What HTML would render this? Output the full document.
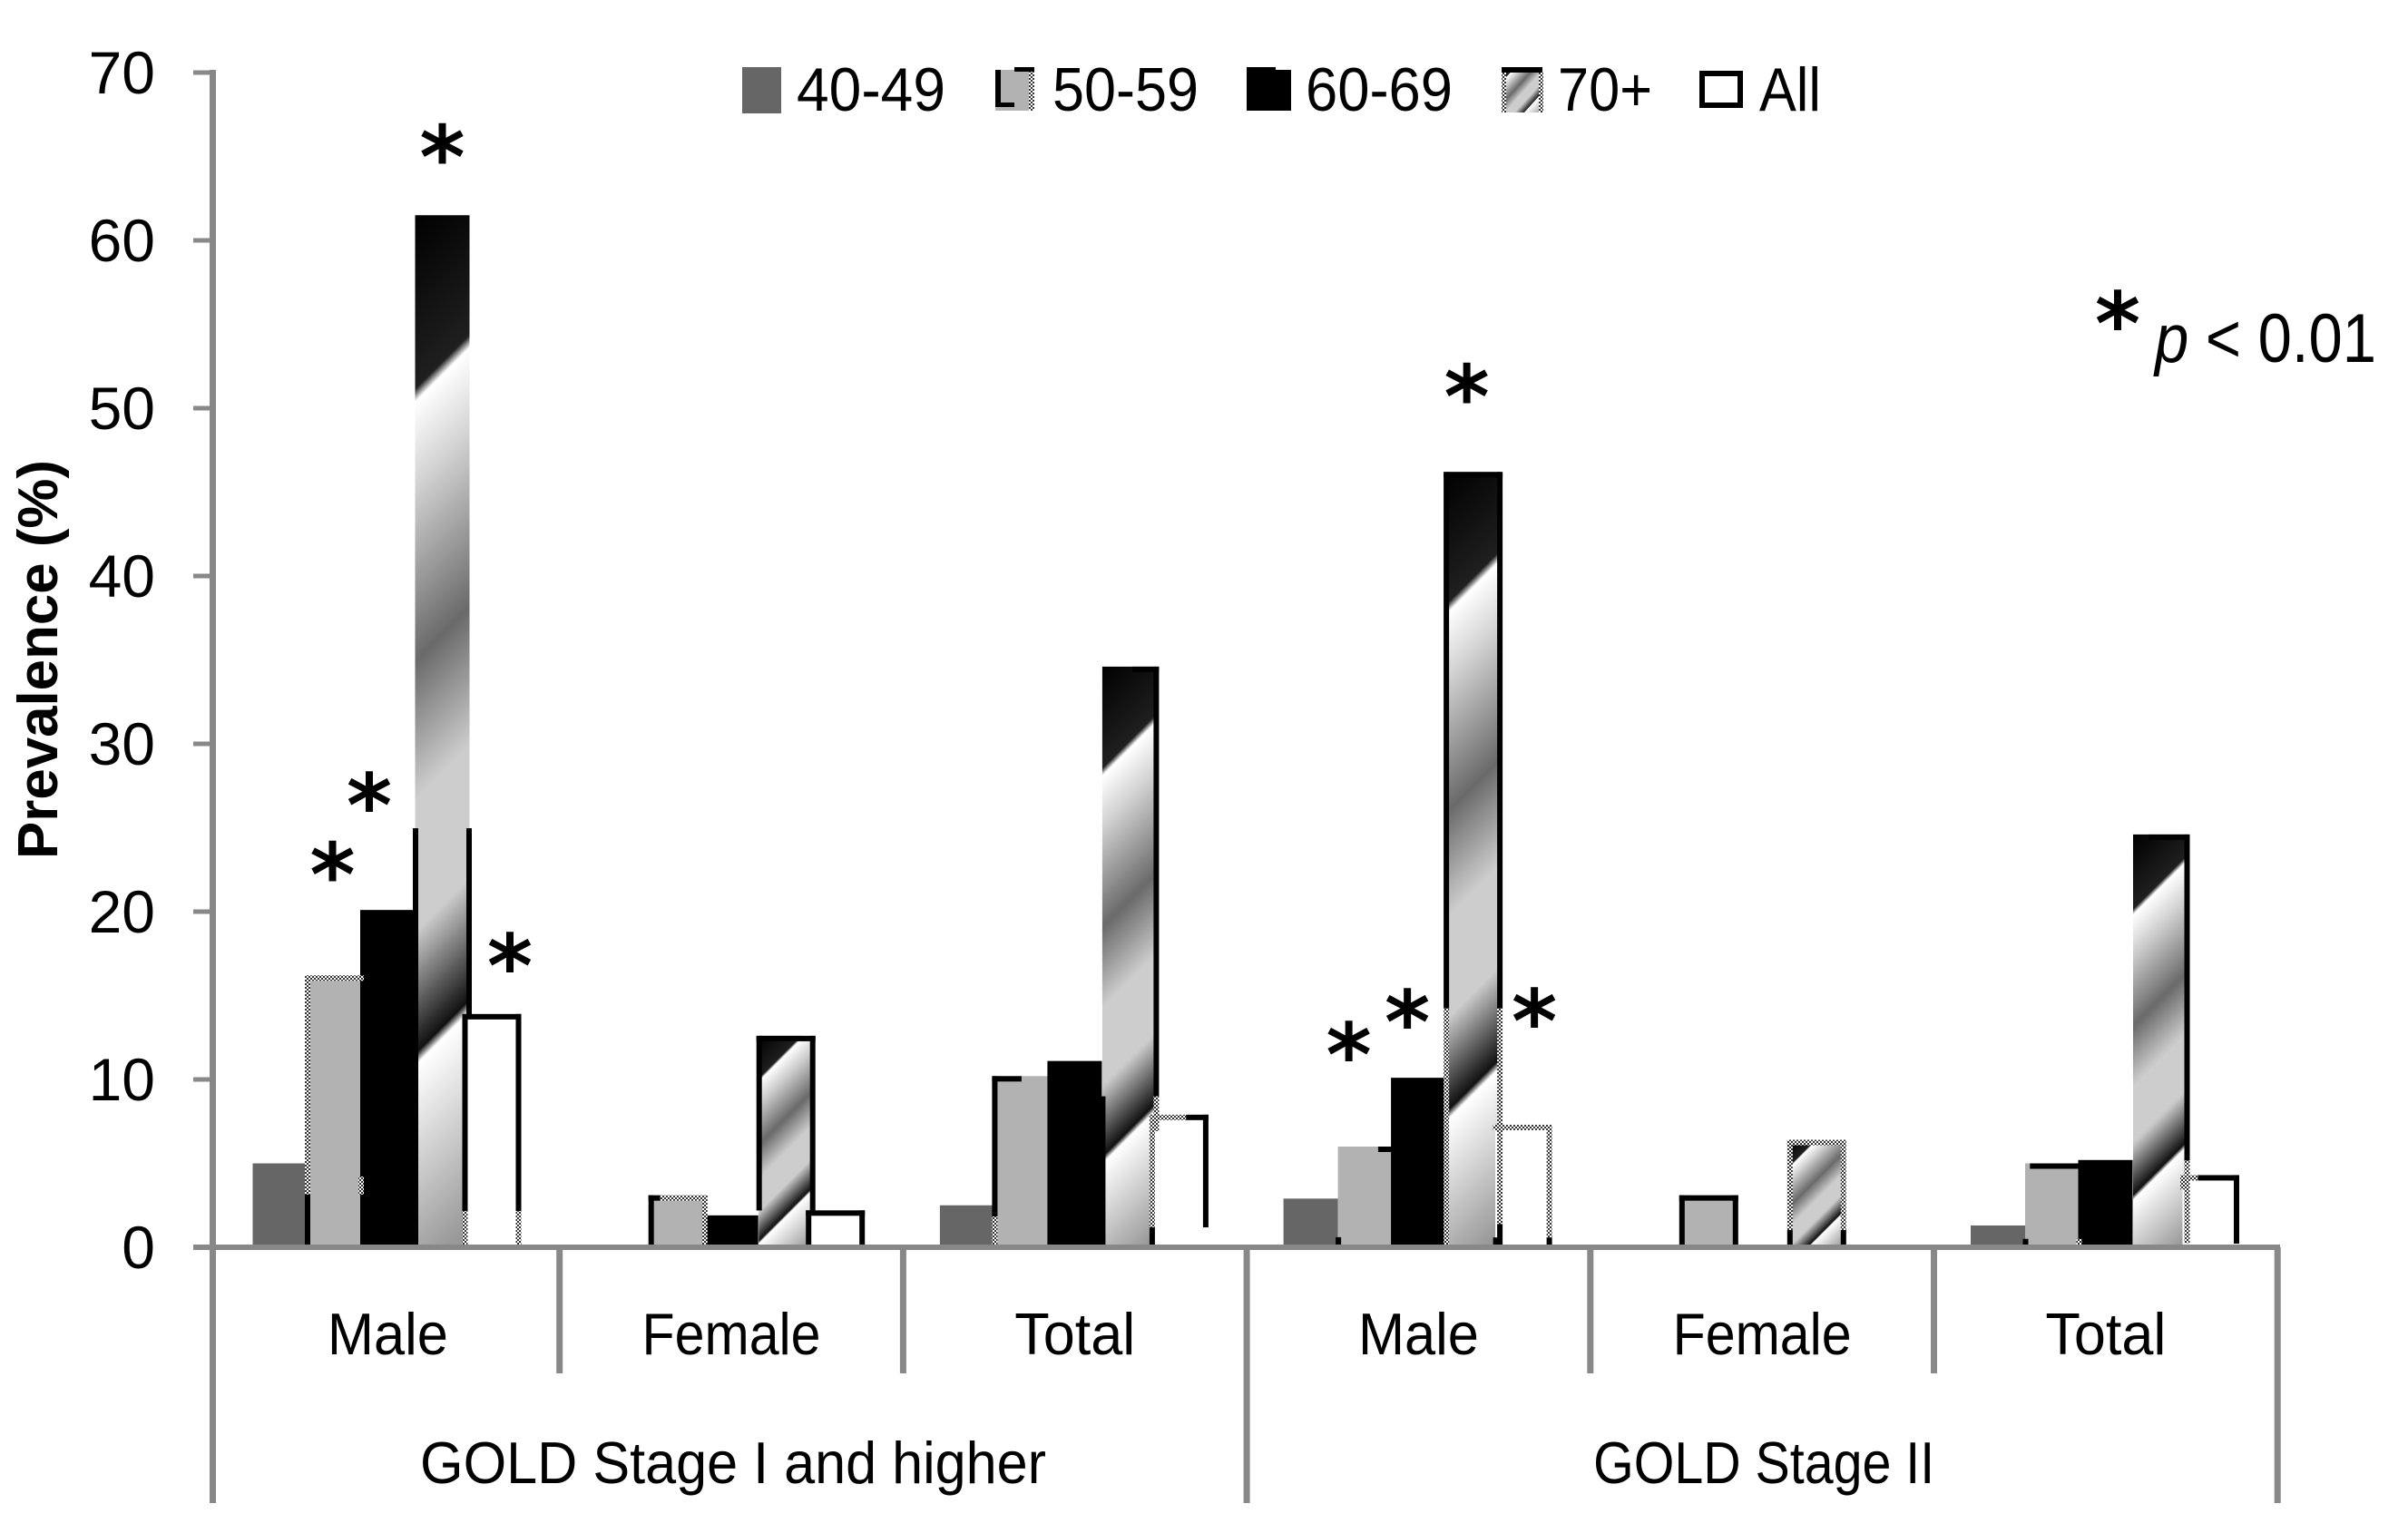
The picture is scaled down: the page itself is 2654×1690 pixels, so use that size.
<!DOCTYPE html>
<html lang="en">
<head>
<meta charset="utf-8">
<title>Prevalence by GOLD stage</title>
<style>
html,body{margin:0;padding:0;background:#fff;width:2654px;height:1690px;overflow:hidden}
svg{display:block;position:absolute;left:0;top:0}
text{font-family:"Liberation Sans",sans-serif;fill:#000}
.star{font-family:"DejaVu Sans",sans-serif;font-size:96px;font-weight:700;text-anchor:middle}
</style>
</head>
<body>
<svg id="chart" xmlns="http://www.w3.org/2000/svg" width="2654" height="1690" viewBox="0 0 2654 1690">
  <defs>
    <pattern id="dots" patternUnits="userSpaceOnUse" width="4" height="4">
      <rect width="4" height="4" fill="#fff"/>
      <rect width="2" height="2" fill="#333"/>
      <rect x="2" y="2" width="2" height="2" fill="#333"/>
    </pattern>
    <linearGradient id="legend-gradient" gradientUnits="objectBoundingBox" x1="0" y1="0" x2="1" y2="1">
      <stop offset="0" stop-color="#000"/><stop offset=".16" stop-color="#1f1f1f"/><stop offset=".172" stop-color="#fff"/>
      <stop offset=".25" stop-color="#d2d2d2"/><stop offset=".411" stop-color="#6a6a6a"/><stop offset=".539" stop-color="#cdcdcd"/>
      <stop offset=".66" stop-color="#cdcdcd"/><stop offset=".772" stop-color="#222"/><stop offset=".783" stop-color="#fff"/><stop offset="1" stop-color="#999"/>
    </linearGradient>
  </defs>
  <g id="bars"></g>
  <g id="axes"></g>
  <g id="stars"></g>

  <g>
    <g>
      <rect x="818" y="74" width="43" height="51" fill="#666"/>
      <text x="878" y="122" font-size="68" textLength="164" lengthAdjust="spacingAndGlyphs">40-49</text>
    </g>
    <g>
      <rect x="1097" y="77" width="43" height="45" fill="#b2b2b2"/>
      <rect x="1097" y="77" width="6" height="41" fill="#000"/>
      <rect x="1097" y="113" width="21" height="5" fill="#000"/>
      <rect x="1118" y="74" width="22" height="5" fill="#000"/>
      <rect x="1134" y="79" width="6" height="43" fill="url(#dots)"/>
      <text x="1160" y="122" font-size="68" textLength="161" lengthAdjust="spacingAndGlyphs">50-59</text>
    </g>
    <g>
      <rect x="1374" y="77" width="49" height="45" fill="#000"/>
      <rect x="1374" y="74" width="32" height="4" fill="#000"/>
      <text x="1439" y="122" font-size="68" textLength="162" lengthAdjust="spacingAndGlyphs">60-69</text>
    </g>
    <g>
      <rect x="1655" y="74" width="45" height="50" fill="url(#legend-gradient)"/>
      <rect x="1655" y="74" width="45" height="6" fill="#000"/>
      <rect x="1655" y="80" width="5" height="44" fill="url(#dots)"/>
      <rect x="1696" y="80" width="5" height="44" fill="url(#dots)"/>
      <text x="1717" y="122" font-size="68" textLength="104" lengthAdjust="spacingAndGlyphs">70+</text>
    </g>
    <g>
      <rect x="1876" y="81" width="42" height="35" fill="#fff" stroke="#000" stroke-width="6"/>
      <text x="1939" y="122" font-size="68" textLength="68" lengthAdjust="spacingAndGlyphs">All</text>
    </g>
  </g>

  <text transform="translate(63,947) rotate(-90)" font-size="62" font-weight="700" textLength="440" lengthAdjust="spacingAndGlyphs">Prevalence (%)</text>

  <g>
    <text class="star" x="2334" y="391">*</text>
    <text x="2375" y="399" font-size="76" textLength="244" lengthAdjust="spacingAndGlyphs"><tspan font-style="italic">p</tspan> &lt; 0.01</text>
  </g>
</svg>

<script>
// ---- chart data (prevalence, %), one value per subgroup; null = no bar ----
const subgroups = ['Male', 'Female', 'Total', 'Male', 'Female', 'Total'];
const stages = ['GOLD Stage I and higher', 'GOLD Stage II'];
const yTicks = [0, 10, 20, 30, 40, 50, 60, 70];
const ageSeries = ['40-49', '50-59', '60-69', '70+', 'All'];
const age40to49 = [5.0, null, 2.5, 2.9, null, 1.3];
const age50to59 = [16.2, 3.1, 10.2, 6.0, 3.1, 5.0];
const age60to69 = [20.1, 1.9, 11.1, 10.1, null, 5.2];
const age70plus = [61.5, 12.6, 34.6, 46.2, 6.4, 24.6];
const ageAll = [13.9, 2.2, 7.9, 7.3, null, 4.3];
const seriesValues = [age40to49, age50to59, age60to69, age70plus, ageAll];
// significant bars as [subgroup index, series index]
const significantBars = [[0, 1], [0, 2], [0, 3], [0, 4], [3, 1], [3, 2], [3, 3], [3, 4]];

// ---- layout and style (not data) ----
const NS = 'http://www.w3.org/2000/svg';
const GROUP_X0 = 238, GROUP_STEP = 378.7, BAR_W = 60;
const slotOffset = [70.5, 130.5, 189, 249.5, 304];
const Y_ZERO = 1375, PX_PER_UNIT = 18.5, EDGE = 6;
const fills = ['#666666', '#b2b2b2', '#000000', null, '#ffffff'];
const slugs = ['40-49', '50-59', '60-69', '70-plus', 'all'];
const gradientStops = [[0,'#000'],[.16,'#1f1f1f'],[.172,'#fff'],[.25,'#d2d2d2'],[.411,'#6a6a6a'],[.539,'#cdcdcd'],[.66,'#cdcdcd'],[.772,'#111'],[.783,'#fff'],[.98,'#999']];
// outline fragments per bar "subgroup-series": [side, from, to, kind]; from/to are fractions of the edge
const outlineStyle = {
  '0-1': [['l',0,.806,'d'],['l',.806,1,'b'],['t',0,1,'d'],['r',.74,.806,'d']],
  '0-3': [['l',.594,1,'b'],['r',.594,.778,'b']],
  '0-4': [['l',0,.845,'b'],['l',.845,1,'d'],['t',0,1,'b'],['r',0,.845,'b'],['r',.845,1,'d']],
  '1-1': [['l',0,1,'b'],['t',0,.2,'b'],['t',.2,1,'d'],['r',0,1,'d']],
  '1-3': [['l',0,.826,'b'],['t',0,1,'b'],['r',0,.826,'b']],
  '1-4': [['l',0,1,'b'],['t',0,1,'b'],['r',0,1,'b']],
  '2-1': [['l',0,.82,'b'],['l',.82,1,'d'],['t',0,.5,'b']],
  '2-3': [['l',.74,1,'b'],['t',.55,1,'b'],['r',0,.74,'b'],['r',.74,.8,'d']],
  '2-4': [['l',0,.85,'d'],['l',.85,1,'b'],['t',0,.62,'d'],['t',.62,1,'b'],['r',0,.85,'b']],
  '3-1': [['t',.72,1,'b'],['l',.9,1,'b']],
  '3-3': [['l',0,.692,'b'],['l',.692,1,'d'],['t',0,1,'b'],['r',0,.692,'b'],['r',.692,.97,'d'],['r',.97,1,'b']],
  '3-4': [['l',.92,1,'b'],['t',0,1,'d'],['r',0,.92,'d'],['r',.92,1,'b']],
  '4-1': [['l',0,1,'b'],['t',0,1,'b'],['r',0,1,'b']],
  '4-3': [['l',0,.84,'d'],['l',.84,1,'b'],['t',0,1,'d'],['r',0,.84,'d'],['r',.84,1,'b']],
  '5-1': [['t',.12,1,'b'],['l',.9,1,'b'],['r',.9,1,'d']],
  '5-3': [['t',.3,1,'b'],['r',0,.79,'b'],['r',.79,.99,'d']],
  '5-4': [['l',0,.2,'d'],['t',0,.3,'d'],['t',.3,1,'b'],['r',0,.95,'b']]
};
// star placement relative to its bar's centre and top
const starOffset = {'0-1':[-2,-127],'0-2':[-20,-131],'0-3':[0,-80],'0-4':[20,-69],'3-1':[-18,-117],'3-2':[-12,-77],'3-3':[-7,-99],'3-4':[13,-130]};
const subgroupLabelWidth = {Male:133, Female:197, Total:133};
const stageLabelWidth = [690, 376];

// ---- axis functions ----
function yScale(v){ return Y_ZERO - v * PX_PER_UNIT; }
function groupX(g){ return GROUP_X0 + g * GROUP_STEP; }
function barCentre(g, s){ return groupX(g) + slotOffset[s]; }

function make(tag, attrs, parent){
  const el = document.createElementNS(NS, tag);
  for (const k in attrs) el.setAttribute(k, attrs[k]);
  parent.appendChild(el);
  return el;
}

const defs = document.querySelector('#chart defs');
const barsLayer = document.getElementById('bars');
const axesLayer = document.getElementById('axes');
const starsLayer = document.getElementById('stars');
const AXIS = '#888888';

seriesValues.forEach(function(values, s){
  values.forEach(function(v, g){
    if (v === null) return;
    const xc = barCentre(g, s), top = yScale(v), h = Y_ZERO - top, xl = xc - BAR_W / 2;
    let fill = fills[s];
    if (fill === null) {
      const span = (BAR_W + h) / 2;
      const grad = make('linearGradient', {id:'grad-' + g, gradientUnits:'userSpaceOnUse', x1:xl, y1:top, x2:xl + span, y2:top + span}, defs);
      gradientStops.forEach(function(st){ make('stop', {offset:st[0], 'stop-color':st[1]}, grad); });
      fill = 'url(#grad-' + g + ')';
    }
    const bar = make('rect', {x:xl, y:top, width:BAR_W, height:h, fill:fill}, barsLayer);
    
    
  });
});

seriesValues.forEach(function(values, s){
  values.forEach(function(v, g){
    if (v === null) return;
    const parts = outlineStyle[g + '-' + s];
    if (!parts) return;
    const xc = barCentre(g, s), top = yScale(v), h = Y_ZERO - top;
    const outerL = xc - 32.5, outerW = 65;
    parts.forEach(function(p){
      const a = {fill: p[3] === 'b' ? '#000' : 'url(#dots)'};
      if (p[0] === 't') { a.x = outerL + p[1] * outerW; a.y = top; a.width = (p[2] - p[1]) * outerW; a.height = EDGE; }
      else { a.x = p[0] === 'l' ? outerL : outerL + outerW - EDGE; a.y = top + p[1] * h; a.width = EDGE; a.height = (p[2] - p[1]) * h; }
      const edge = make('rect', a, barsLayer);
      
      
    });
  });
});

// y axis line, baseline and ticks
const yLine = make('rect', {x:231, y:77, width:7, height:1580, fill:AXIS}, axesLayer);


const xLine = make('rect', {x:213, y:Y_ZERO - 3, width:2300, height:6, fill:AXIS}, axesLayer);



yTicks.forEach(function(t){
  const tick = make('rect', {x:213, y:yScale(t) - 2.5, width:18, height:5, fill:AXIS}, axesLayer);
  
  
  const lab = make('text', {x:171, y:yScale(t) + 23, 'font-size':66, 'text-anchor':'end'}, axesLayer);
  lab.textContent = String(t);
  
  
});

// category separators
for (let k = 1; k <= subgroups.length; k++) {
  const outer = k === 3 || k === 6;
  const sep = make('rect', {x:groupX(k) - 3.5, y:Y_ZERO, width:7, height:(outer ? 1657 : 1514) - Y_ZERO, fill:AXIS}, axesLayer);
  
  
}

// subgroup labels
subgroups.forEach(function(name, g){
  const lab = make('text', {x:(groupX(g) + groupX(g + 1)) / 2, y:1493, 'font-size':65, 'text-anchor':'middle', textLength:subgroupLabelWidth[name], lengthAdjust:'spacingAndGlyphs'}, axesLayer);
  lab.textContent = name;
  
  
});

// stage labels
stages.forEach(function(name, i){
  const lab = make('text', {x:(groupX(i * 3) + groupX(i * 3 + 3)) / 2 + 2, y:1635, 'font-size':65, 'text-anchor':'middle', textLength:stageLabelWidth[i], lengthAdjust:'spacingAndGlyphs'}, axesLayer);
  lab.textContent = name;
  
  
});

// significance stars
significantBars.forEach(function(b){
  const off = starOffset[b[0] + '-' + b[1]];
  const star = make('text', {'class':'star', x:barCentre(b[0], b[1]) + off[0], y:yScale(seriesValues[b[1]][b[0]]) + off[1] + 50}, starsLayer);
  star.textContent = '*';
  
  
});
</script>
</body>
</html>
